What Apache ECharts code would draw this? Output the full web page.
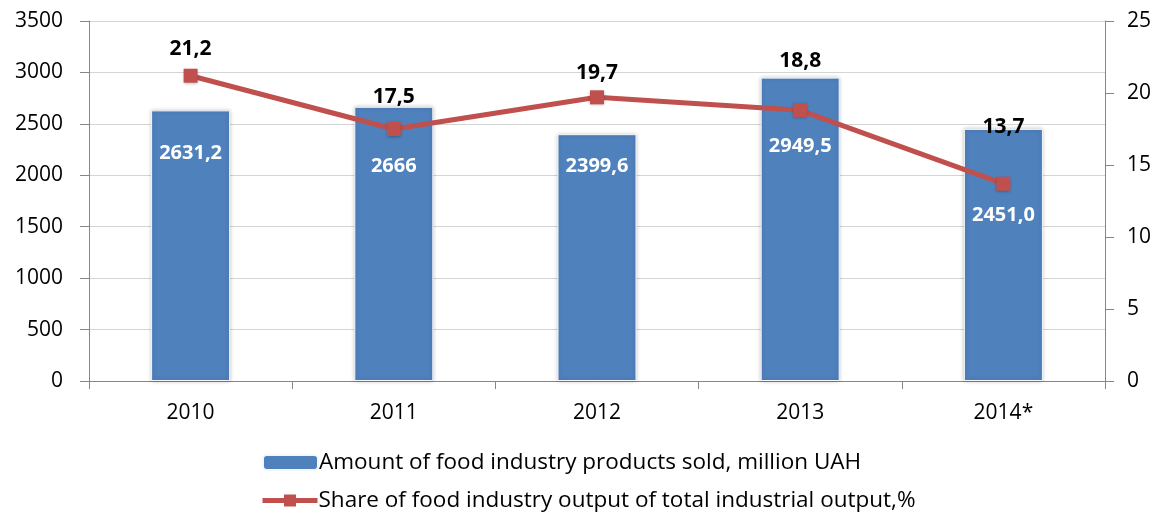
<!DOCTYPE html>
<html><head><meta charset="utf-8">
<script src="https://cdn.jsdelivr.net/npm/echarts@6/dist/echarts.min.js"></script>
<style>html,body{margin:0;padding:0;background:#fff}#c{width:1167px;height:513px}</style>
</head><body><div id="c"></div>
<script>
const categories = ['2010', '2011', '2012', '2013', '2014*'];
const salesValues = [2631.2, 2666, 2399.6, 2949.5, 2451.0];
const salesLabels = ['2631,2', '2666', '2399,6', '2949,5', '2451,0'];
const shareValues = [21.2, 17.5, 19.7, 18.8, 13.7];
const shareLabels = ['21,2', '17,5', '19,7', '18,8', '13,7'];
const leftTicks = [0, 3500, 500];
const rightTicks = [0, 25, 5];
const seriesNames = ['Amount of food industry products sold, million UAH', 'Share of food industry output of total industrial output,%'];

// label placement (style only)
const barLabelDy = [43, 60, 32, 69, 86];
const lineLabelDy = [-26, -31, -23, -48, -56];

const FONT = 'Open Sans';
const chart = echarts.init(document.getElementById('c'), null, {renderer: 'canvas'});
const axisGray = '#868686';
const legendBase = {
  orient: 'horizontal', left: 262, itemWidth: 55, itemHeight: 15,
  lineStyle: {width: 5}, padding: 0,
  textStyle: {fontFamily: FONT, fontSize: 22.5, color: '#000', padding: [0, 0, 0, -4]}
};
chart.setOption({
  animation: false,
  textStyle: {fontFamily: FONT},
  grid: {left: 89, right: 62, top: 21, bottom: 132},
  legend: [
    Object.assign({}, legendBase, {top: 451, data: [seriesNames[0]]}),
    Object.assign({}, legendBase, {top: 489, left: 260, data: [seriesNames[1]]})
  ],
  xAxis: {
    type: 'category', data: categories,
    axisLine: {lineStyle: {color: axisGray, width: 1}},
    axisTick: {show: true, length: 8, lineStyle: {color: axisGray}},
    axisLabel: {fontFamily: FONT, fontSize: 21, color: '#000', margin: 22}
  },
  yAxis: [{
    type: 'value', min: leftTicks[0], max: leftTicks[1], interval: leftTicks[2],
    axisLine: {show: true, lineStyle: {color: axisGray}},
    axisTick: {show: true, length: 9, lineStyle: {color: axisGray}},
    axisLabel: {fontFamily: FONT, fontSize: 21, color: '#000', margin: 26, formatter: v => String(v)},
    splitLine: {lineStyle: {color: '#d4d4d4', width: 1}}
  }, {
    type: 'value', min: rightTicks[0], max: rightTicks[1], interval: rightTicks[2],
    position: 'right',
    axisLine: {show: true, lineStyle: {color: axisGray}},
    axisTick: {show: true, length: 9, lineStyle: {color: axisGray}},
    axisLabel: {fontFamily: FONT, fontSize: 21, color: '#000', margin: 22, formatter: v => String(v)},
    splitLine: {show: false}
  }],
  series: [{
    name: seriesNames[0], type: 'bar', yAxisIndex: 0, barWidth: 79,
    itemStyle: {color: '#4f81bd', borderColor: '#f4f6fa', borderWidth: 1,
      shadowColor: 'rgba(0,0,0,0.22)', shadowBlur: 4},
    data: salesValues.map((v, i) => ({
      value: v,
      label: {show: true, position: ['50%', barLabelDy[i]], align: 'center', verticalAlign: 'middle',
        formatter: salesLabels[i], color: '#fff', fontWeight: 'bold', fontSize: 20, fontFamily: FONT}
    }))
  }, {
    name: seriesNames[1], type: 'line', yAxisIndex: 1, z: 5,
    symbol: 'rect', symbolSize: 14,
    lineStyle: {color: '#c0504d', width: 5},
    itemStyle: {color: '#c0504d', shadowColor: 'rgba(0,0,0,0.3)', shadowBlur: 3, shadowOffsetY: 1},
    data: shareValues.map((v, i) => ({
      value: v,
      label: {show: true, position: 'inside', offset: [0, lineLabelDy[i] - 1],
        formatter: shareLabels[i], color: '#000', fontWeight: 'bold', fontSize: 21, fontFamily: FONT}
    }))
  }]
});
</script></body></html>
